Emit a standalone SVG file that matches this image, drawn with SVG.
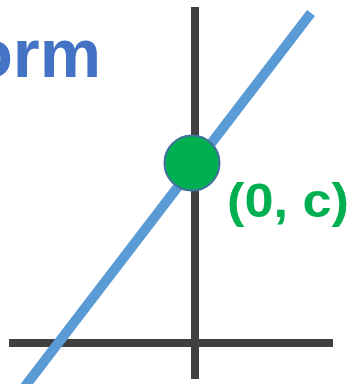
<svg xmlns="http://www.w3.org/2000/svg" width="354" height="384" viewBox="0 0 354 384">
<style>
.axis{stroke:#404040;stroke-width:8;fill:none}
.line{stroke:#5B9BD5;stroke-width:10;fill:none}
.title{font-family:"Liberation Sans",Arial,sans-serif;font-weight:bold;fill:#4472C4}
.lbl{font-family:"Liberation Sans",Arial,sans-serif;font-weight:bold;fill:#00B050}
</style>
<rect width="354" height="384" fill="#ffffff"/>
<text class="title" x="101" y="77" font-size="69" text-anchor="end">orm</text>
<g id="connectors">
<line class="axis" x1="195" y1="7" x2="195" y2="379"/>
<line class="axis" x1="9" y1="343" x2="333" y2="343"/>
<line class="line" x1="311" y1="13" x2="23" y2="389"/>
</g>
<g id="point">
<circle cx="192" cy="163" r="27.5" fill="#00B050" stroke="#41719C" stroke-width="2"/>
</g>
<g id="label">
<text class="lbl" x="227" y="217" font-size="48" textLength="122" lengthAdjust="spacingAndGlyphs">(0, c)</text>
</g>
</svg>
